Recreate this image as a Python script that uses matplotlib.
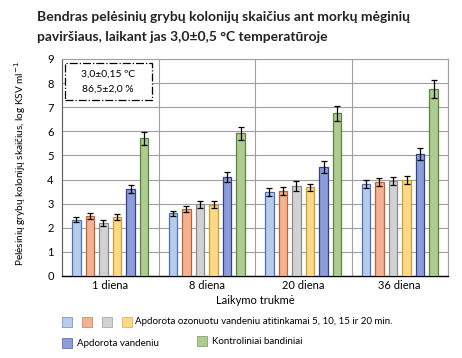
import numpy as np
import matplotlib
matplotlib.use("Agg")
import matplotlib.pyplot as plt
from matplotlib.patches import Rectangle

plt.rcParams['font.family'] = ['Lato', 'DejaVu Sans']

# Data
categories = ["1 diena", "8 diena", "20 diena", "36 diena"]
series_names = ["5 min", "10 min", "15 min", "20 min", "Apdorota vandeniu", "Kontroliniai bandiniai"]
values = [
    [2.34, 2.60, 3.47, 3.82],   # ozonuotas 5 min
    [2.48, 2.77, 3.53, 3.90],   # 10 min
    [2.20, 2.97, 3.73, 3.95],   # 15 min
    [2.45, 2.96, 3.68, 3.98],   # 20 min
    [3.61, 4.12, 4.51, 5.05],   # vanduo
    [5.71, 5.92, 6.75, 7.75],   # kontrole
]
errors = [
    [0.11, 0.11, 0.16, 0.16],
    [0.13, 0.13, 0.15, 0.17],
    [0.11, 0.15, 0.19, 0.17],
    [0.11, 0.14, 0.15, 0.18],
    [0.16, 0.21, 0.24, 0.24],
    [0.28, 0.27, 0.32, 0.36],
]
face_colors = ["#B7CBEA", "#F2B295", "#D2D2D2", "#FDD886", "#8E9DD8", "#AECB92"]
edge_colors = ["#4A72B8", "#C5622B", "#8A8A8A", "#C8A030", "#2F4293", "#5E8240"]

fig = plt.figure(figsize=(4.62, 3.58), dpi=100)
ax = fig.add_axes([62/462, 1 - 276/358, 386/462, 217/358])

x = np.arange(len(categories))
spacing = 0.14
width = 0.088
for i in range(len(series_names)):
    pos = x + (i - 2.5) * spacing
    ax.bar(pos, values[i], width=width, color=face_colors[i], edgecolor=edge_colors[i],
           linewidth=0.9, zorder=3)
    ax.errorbar(pos, values[i], yerr=errors[i], fmt="none", ecolor="black",
                elinewidth=0.9, capsize=2.2, capthick=0.9, zorder=4)

ax.set_xlim(-0.5, len(categories) - 0.5)
ax.set_ylim(0, 9)
ax.set_yticks(range(10))
ax.set_xticks(x)
ax.set_xticklabels(categories, fontsize=8)
ax.tick_params(axis="y", labelsize=8, length=0, pad=6)
ax.tick_params(axis="x", length=0, pad=3)
ax.set_xticks(np.arange(len(categories) + 1) - 0.5, minor=True)
ax.tick_params(axis="x", which="minor", length=0)
ax.grid(axis="y", color="#A0A0A0", linewidth=0.8, zorder=0)
ax.grid(axis="x", which="minor", color="#A0A0A0", linewidth=0.8, zorder=0)
for side in ["top", "right"]:
    ax.spines[side].set_color("#A0A0A0")
    ax.spines[side].set_linewidth(0.8)
ax.spines["left"].set_color("#606060")
ax.spines["bottom"].set_color("black")
ax.spines["bottom"].set_linewidth(1.0)

ax.set_xlabel("Laikymo trukmė", fontsize=8, labelpad=3)
fig.text(20/462, 1 - 163/358, "Pelėsinių grybų kolonijų skaičius, log KSV ml$^{-1}$",
         rotation=90, ha="center", va="center", fontsize=7.2)

# Condition box
box = Rectangle((65/462, 1 - 100/358), 87/462, 37/358, transform=fig.transFigure,
                facecolor="white", edgecolor="black", linestyle="-.", linewidth=0.9, zorder=5)
fig.patches.append(box)
fig.text(108/462, 1 - 74/358, "3,0±0,15 ºC", ha="center", va="center", fontsize=7.5, zorder=6)
fig.text(108/462, 1 - 89/358, "86,5±2,0 %", ha="center", va="center", fontsize=7.5, zorder=6)

# Title
fig.text(37/462, 1 - 17/358, "Bendras pelėsinių grybų kolonijų skaičius ant morkų mėginių",
         ha="left", va="center", fontsize=10, fontweight="bold", color="#222222")
fig.text(37/462, 1 - 37/358, "paviršiaus, laikant jas 3,0±0,5 °C temperatūroje",
         ha="left", va="center", fontsize=10, fontweight="bold", color="#222222")

# Legend drawn manually
sq = 10
for i, xs in enumerate([62, 82, 102, 122]):
    fig.patches.append(Rectangle((xs/462, 1 - 327/358), sq/462, sq/358, transform=fig.transFigure,
                                 facecolor=face_colors[i], edgecolor=edge_colors[i], linewidth=0.4))
fig.text(135/462, 1 - 322/358, "Apdorota ozonuotu vandeniu atitinkamai 5, 10, 15 ir 20 min.",
         ha="left", va="center", fontsize=7)
fig.patches.append(Rectangle((62/462, 1 - 348/358), sq/462, sq/358, transform=fig.transFigure,
                             facecolor=face_colors[4], edgecolor=edge_colors[4], linewidth=0.4))
fig.text(77/462, 1 - 343/358, series_names[4], ha="left", va="center", fontsize=7)
fig.patches.append(Rectangle((197/462, 1 - 346/358), sq/462, sq/358, transform=fig.transFigure,
                             facecolor=face_colors[5], edgecolor=edge_colors[5], linewidth=0.4))
fig.text(212/462, 1 - 341/358, series_names[5], ha="left", va="center", fontsize=7)

fig.savefig("out.png", dpi=100)
